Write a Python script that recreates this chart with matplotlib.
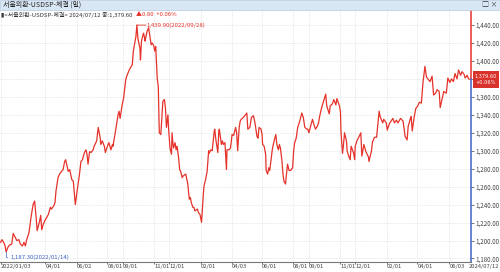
import matplotlib
matplotlib.use("Agg")
import matplotlib.pyplot as plt
import pandas as pd
from matplotlib.patches import Rectangle

plt.rcParams['font.family'] = ['Noto Sans CJK KR', 'DejaVu Sans']

# USD/KRW daily close (approx.)
dates = [
    "2022-01-03", "2022-01-06", "2022-01-10", "2022-01-12", "2022-01-14", "2022-01-18", "2022-01-21",
    "2022-01-25", "2022-01-28", "2022-02-04", "2022-02-08", "2022-02-11", "2022-02-15", "2022-02-18",
    "2022-02-21", "2022-02-23", "2022-02-28", "2022-03-04", "2022-03-08", "2022-03-11", "2022-03-14",
    "2022-03-16", "2022-03-21", "2022-03-23", "2022-03-25", "2022-03-28", "2022-03-31", "2022-04-04",
    "2022-04-07", "2022-04-11", "2022-04-13", "2022-04-18", "2022-04-20", "2022-04-22", "2022-04-26",
    "2022-04-29", "2022-05-03", "2022-05-06", "2022-05-09", "2022-05-11", "2022-05-16", "2022-05-19",
    "2022-05-23", "2022-05-26", "2022-05-30", "2022-06-03", "2022-06-07", "2022-06-10", "2022-06-13",
    "2022-06-17", "2022-06-20", "2022-06-22", "2022-06-24", "2022-06-27", "2022-06-30", "2022-07-04",
    "2022-07-06", "2022-07-11", "2022-07-14", "2022-07-18", "2022-07-19", "2022-07-22", "2022-07-26",
    "2022-07-28", "2022-08-01", "2022-08-04", "2022-08-08", "2022-08-11", "2022-08-12", "2022-08-17",
    "2022-08-22", "2022-08-24", "2022-08-26", "2022-08-30", "2022-09-02", "2022-09-06", "2022-09-08",
    "2022-09-13", "2022-09-15", "2022-09-19", "2022-09-21", "2022-09-26", "2022-09-28", "2022-09-30",
    "2022-10-04", "2022-10-05", "2022-10-07", "2022-10-11", "2022-10-13", "2022-10-14", "2022-10-18",
    "2022-10-21", "2022-10-24", "2022-10-26", "2022-10-28", "2022-10-31", "2022-11-02", "2022-11-04",
    "2022-11-07", "2022-11-09", "2022-11-11", "2022-11-14", "2022-11-16", "2022-11-18", "2022-11-21",
    "2022-11-23", "2022-11-25", "2022-11-28", "2022-11-29", "2022-12-02", "2022-12-05", "2022-12-06",
    "2022-12-08", "2022-12-09", "2022-12-12", "2022-12-14", "2022-12-16", "2022-12-19", "2022-12-21",
    "2022-12-23", "2022-12-26", "2022-12-28",
    "2023-01-02", "2023-01-05", "2023-01-06", "2023-01-09", "2023-01-11", "2023-01-13", "2023-01-16",
    "2023-01-18", "2023-01-20", "2023-01-25", "2023-01-27", "2023-01-30", "2023-02-02", "2023-02-06",
    "2023-02-07", "2023-02-10", "2023-02-13", "2023-02-16", "2023-02-17", "2023-02-20", "2023-02-23",
    "2023-02-27", "2023-02-28", "2023-03-02", "2023-03-06", "2023-03-08", "2023-03-09", "2023-03-13",
    "2023-03-15", "2023-03-17", "2023-03-20", "2023-03-23", "2023-03-24", "2023-03-28", "2023-03-31",
    "2023-04-03", "2023-04-06", "2023-04-10", "2023-04-12", "2023-04-14", "2023-04-17", "2023-04-19",
    "2023-04-21", "2023-04-25", "2023-04-28", "2023-05-02", "2023-05-04", "2023-05-08", "2023-05-11",
    "2023-05-15", "2023-05-18", "2023-05-22", "2023-05-24", "2023-05-26", "2023-05-30", "2023-06-01",
    "2023-06-02", "2023-06-05", "2023-06-08", "2023-06-09", "2023-06-12", "2023-06-14", "2023-06-16",
    "2023-06-19", "2023-06-21", "2023-06-23", "2023-06-26", "2023-06-28", "2023-06-30", "2023-07-03",
    "2023-07-05", "2023-07-07", "2023-07-10", "2023-07-12", "2023-07-14", "2023-07-17", "2023-07-19",
    "2023-07-21", "2023-07-24", "2023-07-27", "2023-07-31", "2023-08-02", "2023-08-04", "2023-08-07",
    "2023-08-10", "2023-08-14", "2023-08-17", "2023-08-18", "2023-08-21", "2023-08-24", "2023-08-28",
    "2023-08-30", "2023-09-01", "2023-09-06", "2023-09-08", "2023-09-12", "2023-09-14", "2023-09-18",
    "2023-09-20", "2023-09-22", "2023-09-26", "2023-10-04", "2023-10-06", "2023-10-11", "2023-10-13",
    "2023-10-17", "2023-10-20", "2023-10-24", "2023-10-26", "2023-10-31", "2023-11-02", "2023-11-03",
    "2023-11-06", "2023-11-08", "2023-11-10", "2023-11-14", "2023-11-15", "2023-11-17", "2023-11-21",
    "2023-11-23", "2023-11-28", "2023-11-30", "2023-12-01", "2023-12-05", "2023-12-08", "2023-12-12",
    "2023-12-14", "2023-12-18", "2023-12-20", "2023-12-22", "2023-12-27", "2023-12-28",
    "2024-01-02", "2024-01-04", "2024-01-08", "2024-01-12", "2024-01-17", "2024-01-19", "2024-01-24",
    "2024-01-26", "2024-01-31", "2024-02-02", "2024-02-06", "2024-02-13", "2024-02-16", "2024-02-20",
    "2024-02-23", "2024-02-28", "2024-03-04", "2024-03-08", "2024-03-12", "2024-03-14", "2024-03-19",
    "2024-03-20", "2024-03-22", "2024-03-26", "2024-03-29", "2024-04-02", "2024-04-05", "2024-04-09",
    "2024-04-12", "2024-04-16", "2024-04-18", "2024-04-19", "2024-04-23", "2024-04-26", "2024-04-30",
    "2024-05-03", "2024-05-07", "2024-05-10", "2024-05-14", "2024-05-16", "2024-05-20", "2024-05-23",
    "2024-05-28", "2024-05-31", "2024-06-04", "2024-06-07", "2024-06-11", "2024-06-14", "2024-06-18",
    "2024-06-21", "2024-06-25", "2024-06-28", "2024-07-02", "2024-07-04", "2024-07-08", "2024-07-10",
    "2024-07-12",
]
rates = [
    1198, 1201, 1197, 1194, 1187.3, 1193, 1195,
    1196, 1208, 1200, 1201, 1196, 1194, 1198,
    1194, 1200, 1209, 1226, 1240, 1244, 1226,
    1211, 1222, 1228, 1212, 1218, 1222, 1226,
    1229, 1237, 1235, 1239, 1242, 1255, 1270,
    1274, 1277, 1279, 1288, 1290, 1277, 1279,
    1268, 1266, 1240, 1257, 1273, 1288, 1290,
    1298, 1301, 1296, 1285, 1299, 1298, 1301,
    1305, 1311, 1326, 1314, 1307, 1311, 1305,
    1298, 1305, 1309, 1301, 1307, 1305, 1322,
    1340, 1344, 1336, 1351, 1359, 1379, 1383,
    1390, 1392, 1396, 1411, 1427, 1439.9, 1425,
    1414, 1401, 1422, 1431, 1426, 1422, 1433,
    1437, 1426, 1418, 1420, 1417, 1411, 1416,
    1380, 1372, 1320, 1318, 1337, 1355, 1357,
    1348, 1326, 1340, 1327, 1303, 1296, 1320,
    1307, 1303, 1309, 1301, 1305, 1292, 1279,
    1277, 1270, 1272,
    1274, 1266, 1263, 1246, 1248, 1242, 1237,
    1237, 1233, 1235, 1231, 1229, 1220.3, 1255,
    1261, 1268, 1277, 1300, 1297, 1301, 1300,
    1322, 1324, 1313, 1298, 1322, 1324, 1307,
    1311, 1307, 1309, 1279, 1301, 1301, 1303,
    1318, 1317, 1326, 1320, 1300, 1326, 1333,
    1335, 1337, 1339, 1342, 1324, 1326, 1337,
    1339, 1331, 1316, 1314, 1326, 1324, 1318,
    1307, 1305, 1296, 1278, 1274, 1281, 1278,
    1292, 1301, 1307, 1314, 1318, 1307, 1301,
    1307, 1303, 1289, 1274, 1266, 1263, 1274,
    1285, 1278, 1278, 1281, 1300, 1309, 1314,
    1326, 1333, 1340, 1342, 1337, 1326, 1324,
    1324, 1320, 1331, 1335, 1327, 1324, 1328,
    1331, 1338, 1348, 1363, 1350, 1341, 1350,
    1352, 1357, 1351, 1358, 1350, 1343, 1321,
    1297, 1307, 1320, 1310, 1300, 1296, 1290,
    1305, 1297, 1290, 1305, 1312, 1315, 1320,
    1294, 1307, 1303, 1299, 1293, 1288,
    1300, 1310, 1315, 1315, 1344, 1338, 1331,
    1335, 1331, 1323, 1330, 1336, 1331, 1334,
    1331, 1336, 1333, 1316, 1312, 1327, 1337,
    1338, 1322, 1338, 1347, 1350, 1354, 1353,
    1375, 1394, 1386, 1382, 1379, 1377, 1383,
    1362, 1364, 1368, 1366, 1348, 1358, 1366,
    1364, 1381, 1376, 1380, 1377, 1386, 1380,
    1390, 1384, 1388, 1385, 1381, 1384, 1381,
    1379.6,
]

tick_dates = ["2022-01-03", "2022-04-01", "2022-06-02", "2022-08-01", "2022-09-01", "2022-11-01",
              "2022-12-01", "2023-02-01", "2023-04-03", "2023-06-01", "2023-08-01", "2023-09-01",
              "2023-11-01", "2023-12-01", "2024-02-01", "2024-04-01", "2024-06-03"]
tick_labels = ["2022/01/03", "04/01", "06/02", "08/01", "09/01", "11/01", "12/01", "02/01", "04/03",
               "06/01", "08/01", "09/01", "11/01", "12/01", "02/01", "04/01", "06/03"]
y_ticks = list(range(1180, 1441, 20))

hi_date, hi_val = "2022-09-28", 1439.90
lo_date, lo_val = "2022-01-14", 1187.30
last_label = "2024/07/12"
last_val = 1379.60
last_pct = "+0.06%"
chg_text = "▲0.80  +0.06%"

red = "#e5322a"
blue = "#3d63c4"
txt = "#444444"

d = pd.to_datetime(dates)
W, H = 500, 272

fig = plt.figure(figsize=(W / 100, H / 100), dpi=100)
ax = fig.add_axes([0, 10 / H, 471 / W, 252 / H])
ax.plot(d, rates, color=red, lw=0.9)

ymin, ymax = 1176.1, 1456.7
ax.set_xlim(pd.Timestamp("2022-01-02"), pd.Timestamp("2024-07-15 12:00"))
ax.set_ylim(ymin, ymax)

# y axis on the right; the label under the last-price box is covered
ax.yaxis.tick_right()
ax.set_yticks(y_ticks)
ax.set_yticklabels(["" if abs(v - last_val) < 8 else f"{v:,.2f}" for v in y_ticks])
ax.tick_params(axis="y", length=2, width=0.5, pad=1, labelsize=4.5, colors=txt)

# x axis
ax.set_xticks(pd.to_datetime(tick_dates))
ax.set_xticklabels(tick_labels, ha="left")
ax.tick_params(axis="x", length=1.5, width=0.5, pad=0.2, labelsize=4.2, colors=txt)

ax.grid(True, color="#d6d6d6", ls=(0, (1, 1.5)), lw=0.5)
for s in ["left", "top", "right"]:
    ax.spines[s].set_visible(False)
ax.spines["bottom"].set_color("#777777")
ax.spines["bottom"].set_linewidth(0.8)

# price axis line: red above the last price, blue below
yt = ax.get_yaxis_transform()
ax.plot([1, 1], [last_val, ymax], transform=yt, color=red, lw=1.1, clip_on=False)
ax.plot([1, 1], [ymin, last_val], transform=yt, color=blue, lw=1.1, clip_on=False)

# last price box (one two-line text)
fig.patches.append(Rectangle((473 / W, (H - 88) / H), 26 / W, 17 / H, transform=fig.transFigure,
                             facecolor="#d8322a", edgecolor="none"))
fig.text(486 / W, (H - 79.5) / H, f"{last_val:,.2f}\n{last_pct}", color="white", fontsize=3.6,
         family="DejaVu Sans", ha="center", va="center", linespacing=1.25, multialignment="center")

# high / low markers
hd = pd.Timestamp(hi_date)
ax.annotate("", xy=(hd, hi_val), xytext=(9, 0), textcoords="offset pixels",
            arrowprops=dict(arrowstyle="-", color=red, lw=0.6, shrinkA=0, shrinkB=0))
ax.annotate(f"{hi_val:,.2f}({hi_date.replace('-', '/')})", xy=(hd, hi_val), xytext=(10, 0),
            textcoords="offset pixels", color=red, fontsize=4.3, va="center", ha="left")
ld = pd.Timestamp(lo_date)
ax.annotate(f"{lo_val:,.2f}({lo_date.replace('-', '/')})", xy=(ld, lo_val), xytext=(4, -5),
            textcoords="offset pixels", color=blue, fontsize=4.3, va="center", ha="left",
            arrowprops=dict(arrowstyle="-", color=blue, lw=0.5, shrinkA=0, shrinkB=0,
                            connectionstyle="angle,angleA=0,angleB=90,rad=0"))

fig.text(499 / W, (H - 266.5) / H, last_label, color=txt, fontsize=4.2, ha="right", va="center")

# window title bar
fig.patches.append(Rectangle((0, (H - 10) / H), 1, 10 / H, transform=fig.transFigure,
                             facecolor="#d9e7f5", edgecolor="#b8cbe0", lw=0.5))
fig.text(3 / W, (H - 5) / H, "서울외환-USDSP-체결 (일)", color="#222222", fontsize=5,
         ha="left", va="center")
fig.text(497 / W, (H - 5) / H, "□ ×", color="#333333", fontsize=5, ha="right", va="center")

# header line
fig.text(1 / W, (H - 15) / H, "▮<서울외환-USDSP-체결> 2024/07/12 종:1,379.60", color="#333333",
         fontsize=4.3, ha="left", va="center")
fig.text(136 / W, (H - 15) / H, chg_text, color=red, fontsize=4.3, ha="left", va="center")

fig.savefig("out.png", dpi=100)
